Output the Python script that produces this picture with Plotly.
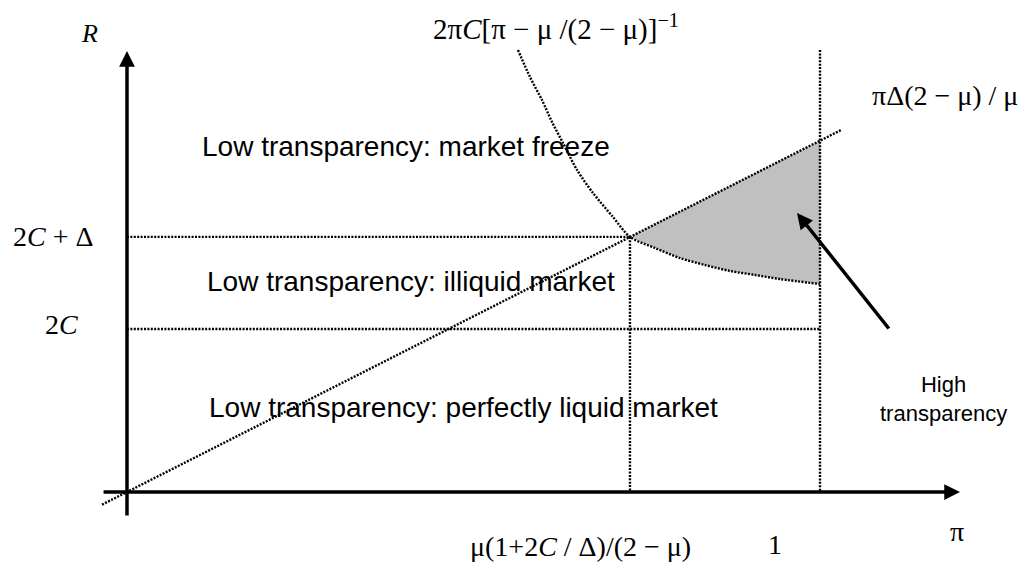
import numpy as np
import plotly.graph_objects as go

# ---------------- data (conceptual units: x = pi, y = R) ----------------
curve_pi = [0.5642, 0.5815, 0.5988, 0.6133, 0.6292, 0.6494, 0.6724, 0.7013,
            0.7258, 0.7619, 0.7980, 0.8341, 0.8701, 0.9062, 0.9423, 1.0]
curve_R = [5.423, 5.092, 4.810, 4.540, 4.282, 3.951, 3.669, 3.374,
           3.130, 2.994, 2.871, 2.785, 2.712, 2.663, 2.613, 2.552]

line_pi = [-0.036, 1.030]
line_R = [-0.155, 4.440]

pi_star = 0.7258
pi_one = 1.0
R_2C = 2.0
R_2CD = 3.13
R_top_vline = 5.423

x_tick_labels = ["μ(1+2<i>C</i> / Δ)/(2 − μ)", "1", "π"]
y_tick_labels = ["2<i>C</i> + Δ", "2<i>C</i>"]
region_labels = ["Low transparency: market freeze",
                 "Low transparency: illiquid market",
                 "Low transparency: perfectly liquid market"]
curve_label = "2π<i>C</i>[π − μ /(2 − μ)]<sup>−1</sup>"
line_label = "πΔ(2 − μ) / μ"
high_label = "High<br>transparency"

SERIF = "Liberation Serif"
SANS = "Liberation Sans"
DOT = "2px,1.4px"

fig = go.Figure()

# shaded high-transparency region: between line (top) and curve (bottom), pi_star..1
line_at_one = float(np.interp(pi_one, line_pi, line_R))
sel = [i for i, p in enumerate(curve_pi) if p >= pi_star]
fill_x = [pi_star, pi_one] + [curve_pi[i] for i in reversed(sel)]
fill_y = [R_2CD, line_at_one] + [curve_R[i] for i in reversed(sel)]
fig.add_trace(go.Scatter(x=fill_x, y=fill_y, fill="toself", fillcolor="#c0c0c0",
                         mode="lines", line=dict(width=0, color="#c0c0c0"),
                         hoverinfo="skip"))

dotted = dict(color="black", width=2.4, dash=DOT)
# curve
fig.add_trace(go.Scatter(x=curve_pi, y=curve_R, mode="lines",
                         line=dict(shape="spline", smoothing=0.8, **dotted)))
# ray through origin
fig.add_trace(go.Scatter(x=line_pi, y=line_R, mode="lines", line=dotted))
# horizontal guides
fig.add_trace(go.Scatter(x=[0, pi_star], y=[R_2CD, R_2CD], mode="lines", line=dotted))
fig.add_trace(go.Scatter(x=[0, pi_one], y=[R_2C, R_2C], mode="lines", line=dotted))
# vertical guides
fig.add_trace(go.Scatter(x=[pi_star, pi_star], y=[R_2CD, 0], mode="lines", line=dotted))
fig.add_trace(go.Scatter(x=[pi_one, pi_one], y=[R_top_vline, 0], mode="lines", line=dotted))

# axes with arrows
def arrow(x_tip, y_tip, x_tail, y_tail, w=3.5, size=0.9):
    fig.add_annotation(x=x_tip, y=y_tip, ax=x_tail, ay=y_tail,
                       xref="x", yref="y", axref="x", ayref="y",
                       text="", showarrow=True, arrowhead=2, arrowsize=size,
                       arrowwidth=w, arrowcolor="black", standoff=0, startstandoff=0)

arrow(1.202, 0, -0.036, 0)          # pi axis
arrow(0, 5.411, 0, -0.307)          # R axis
arrow(0.9668, 3.423, 1.101, 1.988)  # pointer to shaded region

def label(x, y, text, font, size, xanchor="center", italic=False):
    fig.add_annotation(x=x, y=y, xref="x", yref="y", text=text, showarrow=False,
                       xanchor=xanchor, yanchor="middle",
                       font=dict(family=font, size=size, color="black",
                                 style="italic" if italic else "normal"))

# axis names
label(-0.0534, 5.62, "R", SERIF, 26, italic=True)
label(1.1977, -0.49, x_tick_labels[2], SERIF, 28)
# tick-like labels
label(0.654, -0.67, x_tick_labels[0], SERIF, 28)
label(0.935, -0.65, x_tick_labels[1], SERIF, 28)
label(-0.1068, R_2CD, y_tick_labels[0], SERIF, 28)
label(-0.0938, R_2C + 0.05, y_tick_labels[1], SERIF, 28)
# curve / line formulas
label(0.619, 5.70, curve_label, SERIF, 29)
label(1.1804, 4.86, line_label, SERIF, 28)
# region labels
label(0.1053, 4.245, region_labels[0], SANS, 28, xanchor="left")
label(0.1126, 2.577, region_labels[1], SANS, 28, xanchor="left")
label(0.1154, 1.031, region_labels[2], SANS, 28, xanchor="left")
label(1.1775, 1.14, high_label, SANS, 22)

# The page body has an 8px margin, so the 1022x554 figure occupies page
# pixels 8..1030 x 8..562; ranges are chosen so the content lines up.
fig.update_layout(
    width=1022, height=554,
    margin=dict(l=0, r=0, t=0, b=0),
    paper_bgcolor="white", plot_bgcolor="white",
    showlegend=False,
    xaxis=dict(range=[-0.1717, 1.30303], visible=False, fixedrange=True),
    yaxis=dict(range=[-0.8589, 5.9387], visible=False, fixedrange=True),
)

fig.write_html("out.html")
